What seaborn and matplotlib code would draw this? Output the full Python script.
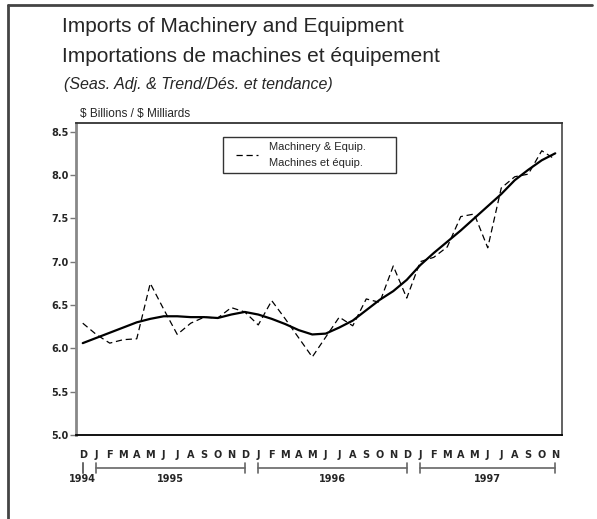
import numpy as np
import pandas as pd
import matplotlib
matplotlib.use("Agg")
import matplotlib.pyplot as plt
import matplotlib.transforms as mtransforms
from matplotlib.lines import Line2D
from matplotlib.legend_handler import HandlerLine2D
import seaborn as sns

# monthly data, Dec 1994 .. Nov 1997 ($ billions)
months = ["D", "J", "F", "M", "A", "M", "J", "J", "A", "S", "O", "N",
          "D", "J", "F", "M", "A", "M", "J", "J", "A", "S", "O", "N",
          "D", "J", "F", "M", "A", "M", "J", "J", "A", "S", "O", "N"]
seas_adj = [6.29, 6.16, 6.06, 6.10, 6.11, 6.75, 6.45, 6.16, 6.29, 6.36, 6.35, 6.47,
            6.42, 6.27, 6.55, 6.34, 6.12, 5.90, 6.13, 6.36, 6.26, 6.57, 6.53, 6.95,
            6.58, 7.00, 7.05, 7.17, 7.52, 7.55, 7.16, 7.85, 7.98, 8.01, 8.28, 8.18]
trend = [6.06, 6.12, 6.18, 6.24, 6.30, 6.34, 6.37, 6.37, 6.36, 6.36, 6.35, 6.39,
         6.42, 6.39, 6.34, 6.28, 6.21, 6.16, 6.17, 6.24, 6.32, 6.44, 6.56, 6.66,
         6.79, 6.96, 7.10, 7.23, 7.36, 7.50, 7.64, 7.78, 7.94, 8.06, 8.17, 8.25]
years = ["1994", "1995", "1996", "1997"]
year_spans = [(0, 0), (1, 12), (13, 24), (25, 35)]
y_ticks = [5.0, 5.5, 6.0, 6.5, 7.0, 7.5, 8.0, 8.5]

sns.set_style("white")
plt.rcParams["font.family"] = ["Liberation Sans", "DejaVu Sans"]

df = pd.DataFrame({"idx": np.arange(len(seas_adj)), "sa": seas_adj, "trend": trend})

fig = plt.figure(figsize=(5.97, 5.19), dpi=100)
W, H = 597, 519
ax = fig.add_axes([76 / W, (H - 435) / H, (562 - 76) / W, (435 - 123) / H])

sns.lineplot(data=df, x="idx", y="sa", ax=ax, color="black", lw=0.9,
             label="Machinery & Equip.\nMachines et équip.")
sa_line = ax.lines[-1]
sa_line.set_dashes([5, 3])
sns.lineplot(data=df, x="idx", y="trend", ax=ax, color="black", lw=1.6)

ax.set_xlim(-0.5, len(months) - 0.5)
ax.set_ylim(5.0, 8.6)
ax.set_xlabel("")
ax.set_ylabel("")
ax.set_yticks(y_ticks)
ax.set_yticklabels([f"{v:.1f}" for v in y_ticks], fontweight="bold", fontsize=7,
                   family="DejaVu Sans")
ax.set_xticks(np.arange(len(months)))
ax.set_xticklabels(months, fontweight="bold", fontsize=7, family="DejaVu Sans")
ax.tick_params(axis="x", length=0, pad=11)
ax.tick_params(axis="y", length=4, width=1, color="#777777", pad=1.5, left=True)

ax.spines["left"].set_color("#888888")
ax.spines["left"].set_linewidth(2)
ax.spines["bottom"].set_color("black")
ax.spines["bottom"].set_linewidth(1.3)
ax.spines["right"].set_color("#555555")
ax.spines["right"].set_linewidth(1.3)
ax.spines["top"].set_color("#333333")
ax.spines["top"].set_linewidth(1.3)

leg = ax.legend(loc="upper left", mode="expand",
                bbox_to_anchor=(147 / 486, 1 - 14 / 312, 173 / 486, 0.0),
                frameon=True, fancybox=False, edgecolor="black", fontsize=8,
                handlelength=2.7, borderpad=0.45, handletextpad=1.0,
                borderaxespad=0,
                handler_map={sa_line: HandlerLine2D(xpad=0.7)})
leg.get_frame().set_linewidth(1.0)
for t in leg.get_texts():
    t.set_linespacing(1.7)

# year brackets under the month letters
trans = mtransforms.blended_transform_factory(ax.transData, ax.transAxes)
yb = -33 / 312
for year, (a, b) in zip(years, year_spans):
    kw = dict(transform=trans, color="#666666", lw=1.2, clip_on=False)
    ax.add_line(Line2D([a, b], [yb, yb], **kw))
    for e in (a, b):
        ax.add_line(Line2D([e, e], [yb - 5 / 312, yb + 5 / 312], **kw))
    ax.text((a + b) / 2, yb - 6 / 312, year, transform=trans, ha="center",
            va="top", fontsize=7, fontweight="bold", family="DejaVu Sans")

# titles
fig.text(62 / W, 1 - 27 / H, "Imports of Machinery and Equipment",
         fontsize=15, va="center", ha="left")
fig.text(62 / W, 1 - 56 / H, "Importations de machines et équipement",
         fontsize=15, va="center", ha="left")
fig.text(64 / W, 1 - 84 / H, "(Seas. Adj. & Trend/Dés. et tendance)",
         fontsize=11.5, style="italic", va="center", ha="left")
fig.text(80 / W, 1 - 114 / H, r"\$ Billions / \$ Milliards",
         fontsize=8.5, va="center", ha="left")

# page frame
fig.add_artist(Line2D([8 / W, 8 / W], [0, 1 - 5 / H], transform=fig.transFigure,
                      color="#444444", lw=2))
fig.add_artist(Line2D([8 / W, 592 / W], [1 - 5 / H, 1 - 5 / H],
                      transform=fig.transFigure, color="#444444", lw=2))

fig.savefig("out.png", dpi=100)
